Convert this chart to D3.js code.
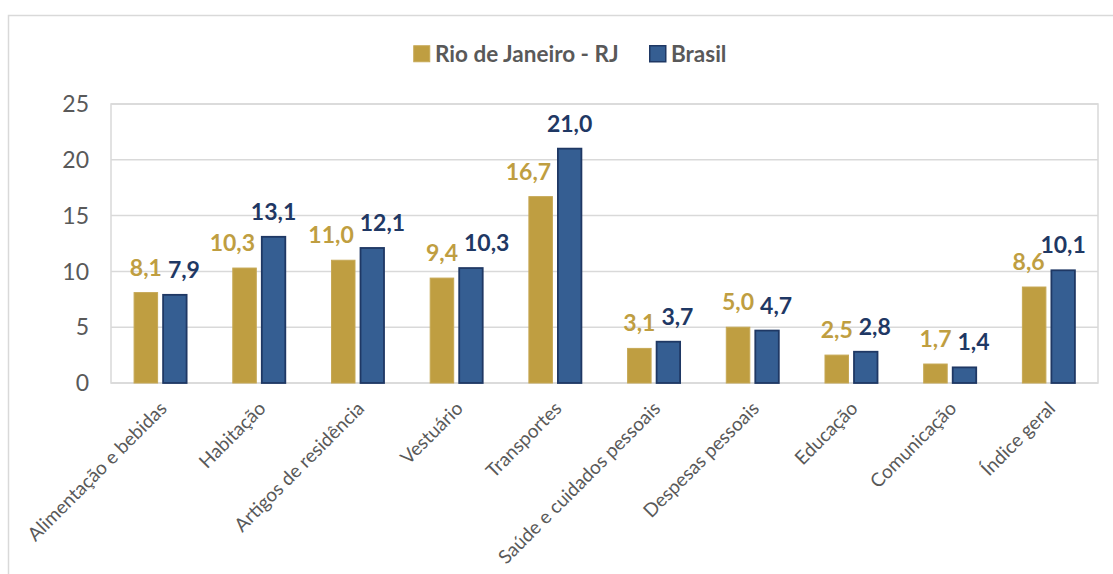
<!DOCTYPE html>
<html>
<head>
<meta charset="utf-8">
<script src="https://d3js.org/d3.v7.min.js"></script>
<style>
body { margin: 0; background: white; }
svg { display: block; }
.tick-label { font-family: Lato, "Open Sans", sans-serif; font-size: 23px; fill: #595959; }
.cat-label { font-family: Lato, "Open Sans", sans-serif; font-size: 19px; fill: #595959; }
.legend-label { font-family: Lato, "Open Sans", sans-serif; font-size: 22.5px; font-weight: 700; fill: #595959; }
.val-label { font-family: Lato, "Open Sans", sans-serif; font-size: 23px; font-weight: 700; }
</style>
</head>
<body>
<svg width="1113" height="574"></svg>
<script>
// data
var categories = ["Alimentação e bebidas", "Habitação", "Artigos de residência", "Vestuário",
  "Transportes", "Saúde e cuidados pessoais", "Despesas pessoais", "Educação",
  "Comunicação", "Índice geral"];
var seriesNames = ["Rio de Janeiro - RJ", "Brasil"];
var rioValues = [8.1, 10.3, 11.0, 9.4, 16.7, 3.1, 5.0, 2.5, 1.7, 8.6];
var brasilValues = [7.9, 13.1, 12.1, 10.3, 21.0, 3.7, 4.7, 2.8, 1.4, 10.1];
var yTicks = [0, 5, 10, 15, 20, 25];

var fills = ["#BF9E41", "#355E92"];
var strokes = ["#C6A855", "#1F3864"];
var labelColors = ["#BF9E41", "#1F3864"];

var svg = d3.select("svg");
var plot = {left: 111, right: 1098, top: 104, bottom: 383};

// outer frame (only left and top edges are visible)
svg.append("rect")
  .attr("x", 8.5).attr("y", 15.5)
  .attr("width", 1300).attr("height", 800)
  .attr("fill", "none").attr("stroke", "#D9D9D9").attr("stroke-width", 1.5);

var y = d3.scaleLinear().domain([0, 25]).range([plot.bottom, plot.top]);
var x0 = d3.scaleBand().domain(categories).range([plot.left, plot.right]);
var x1 = d3.scaleBand().domain(seriesNames).range([0, x0.bandwidth()])
  .paddingInner(0.138).paddingOuter(0.77);

// gridlines
svg.append("g").selectAll("line").data(yTicks).enter().append("line")
  .attr("x1", plot.left).attr("x2", plot.right)
  .attr("y1", function(d){ return y(d); }).attr("y2", function(d){ return y(d); })
  .attr("stroke", "#D9D9D9").attr("stroke-width", 1.5);

// plot area border
svg.append("rect")
  .attr("x", plot.left).attr("y", plot.top)
  .attr("width", plot.right - plot.left).attr("height", plot.bottom - plot.top)
  .attr("fill", "none").attr("stroke", "#D9D9D9").attr("stroke-width", 1.5);

// y tick labels
svg.append("g").selectAll("text").data(yTicks).enter().append("text")
  .attr("class", "tick-label")
  .attr("x", 89)
  .attr("y", function(d){ return y(d); })
  .attr("dy", "0.36em")
  .attr("text-anchor", "end")
  .text(function(d){ return d; });

// bars
var rows = categories.map(function(c, i){
  return {cat: c, vals: [rioValues[i], brasilValues[i]]};
});

var groups = svg.append("g").selectAll("g").data(rows).enter().append("g")
  .attr("transform", function(d){ return "translate(" + x0(d.cat) + ",0)"; });

groups.selectAll("rect").data(function(d){
    return d.vals.map(function(v, k){ return {s: seriesNames[k], k: k, v: v}; });
  }).enter().append("rect")
  .attr("x", function(d){ return x1(d.s) + 0.75; })
  .attr("y", function(d){ return y(d.v); })
  .attr("width", x1.bandwidth() - 1.5)
  .attr("height", function(d){ return plot.bottom - y(d.v); })
  .attr("fill", function(d){ return fills[d.k]; })
  .attr("stroke", function(d){ return strokes[d.k]; })
  .attr("stroke-width", function(d){ return d.k == 1 ? 1.8 : 1; });

// value labels, nudged apart like the spreadsheet does when they collide
var fmt = function(v){ return d3.format(".1f")(v).replace(".", ","); };
var labelLayer = svg.append("g");
var capH = 14, gapAbove = 17, pad = 6;

rows.forEach(function(d){
  var base = x0(d.cat);
  var bars = d.vals.map(function(v, k){
    var left = base + x1(seriesNames[k]);
    return {left: left, right: left + x1.bandwidth(), top: y(v)};
  });
  var labels = d.vals.map(function(v, k){
    var t = labelLayer.append("text")
      .attr("class", "val-label")
      .attr("fill", labelColors[k])
      .attr("text-anchor", "middle")
      .text(fmt(v));
    var w = t.node().getComputedTextLength();
    return {t: t, w: w, cx: (bars[k].left + bars[k].right) / 2, base: bars[k].top - gapAbove};
  });
  var g = labels[0], b = labels[1];
  // gold label running into the taller blue bar
  if (bars[1].top < g.base + 6 && g.cx + g.w / 2 > bars[1].left - pad) {
    g.cx = bars[1].left - pad - g.w / 2;
  }
  // blue label running into the taller gold bar
  if (bars[0].top < b.base + 6 && b.cx - b.w / 2 < bars[0].right + pad) {
    b.cx = bars[0].right + pad + b.w / 2;
  }
  // labels overlapping each other
  var vOverlap = !(g.base < b.base - capH || b.base < g.base - capH);
  if (vOverlap && b.cx - b.w / 2 < g.cx + g.w / 2 + pad) {
    b.cx = g.cx + g.w / 2 + pad + b.w / 2;
  }
  labels.forEach(function(l){ l.t.attr("x", l.cx).attr("y", l.base); });
});

// category labels
svg.append("g").selectAll("text").data(categories).enter().append("text")
  .attr("class", "cat-label")
  .attr("text-anchor", "end")
  .attr("transform", function(d){
    return "translate(" + (x0(d) + x0.bandwidth() / 2 + 3) + "," + (plot.bottom + 22) + ") rotate(-45)";
  })
  .attr("dy", "0.35em")
  .text(function(d){ return d; });

// legend
var legend = svg.append("g");
var legendItems = [{x: 413, k: 0}, {x: 649, k: 1}];
legendItems.forEach(function(it){
  legend.append("rect")
    .attr("x", it.x + 0.75).attr("y", 45.75)
    .attr("width", 16).attr("height", 16)
    .attr("fill", fills[it.k])
    .attr("stroke", strokes[it.k])
    .attr("stroke-width", it.k == 1 ? 1.5 : 1);
  legend.append("text")
    .attr("class", "legend-label")
    .attr("x", it.x + 22).attr("y", 61.5)
    .text(seriesNames[it.k]);
});
</script>
</body>
</html>
